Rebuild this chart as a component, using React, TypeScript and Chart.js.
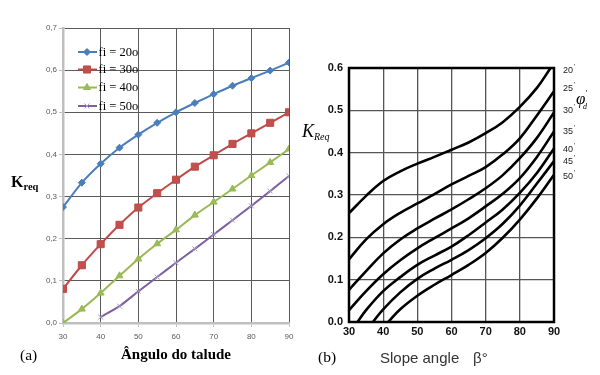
import React, { useEffect, useRef } from 'react';
import { Chart, registerables } from 'chart.js';
import { drawPoint } from 'chart.js/helpers';

Chart.register(...registerables);

// ---------- chart (a) data ----------
const anglesA = [30, 35, 40, 45, 50, 55, 60, 65, 70, 75, 80, 85, 90];
const kreqFi20 = [0.275, 0.333, 0.378, 0.416, 0.447, 0.475, 0.5, 0.522, 0.543, 0.563, 0.581, 0.599, 0.618];
const kreqFi30 = [0.081, 0.137, 0.187, 0.233, 0.274, 0.308, 0.34, 0.371, 0.398, 0.425, 0.45, 0.475, 0.5];
const kreqFi40 = [0.0, 0.033, 0.071, 0.112, 0.152, 0.188, 0.221, 0.256, 0.287, 0.318, 0.35, 0.381, 0.413];
const kreqFi50 = [null, null, 0.014, 0.04, 0.075, 0.109, 0.143, 0.176, 0.21, 0.244, 0.278, 0.313, 0.349];
const legendLabelsA = ['fi = 20o', 'fi = 30o', 'fi = 40o', 'fi = 50o'];

// ---------- chart (b) data ----------
const betaB20 = [30, 35, 40, 45, 50, 55, 60, 65, 70, 75, 80, 85, 89];
const kB20 = [0.257, 0.298, 0.333, 0.356, 0.374, 0.39, 0.407, 0.424, 0.446, 0.472, 0.508, 0.553, 0.6];
const betaB = [30, 35, 40, 45, 50, 55, 60, 65, 70, 75, 80, 85, 90];
const kB25 = [0.148, 0.195, 0.231, 0.258, 0.28, 0.302, 0.325, 0.345, 0.366, 0.396, 0.434, 0.488, 0.545];
const kB30 = [0.076, 0.12, 0.162, 0.195, 0.221, 0.244, 0.266, 0.29, 0.316, 0.347, 0.387, 0.435, 0.495];
const kB35 = [0.028, 0.073, 0.113, 0.146, 0.174, 0.198, 0.221, 0.245, 0.273, 0.303, 0.34, 0.39, 0.45];
const betaB40 = [32.5, 35, 40, 45, 50, 55, 60, 65, 70, 75, 80, 85, 90];
const kB40 = [0.0, 0.028, 0.073, 0.106, 0.135, 0.157, 0.178, 0.205, 0.235, 0.266, 0.305, 0.352, 0.41];
const betaB45 = [37, 40, 45, 50, 55, 60, 65, 70, 75, 80, 85, 90];
const kB45 = [0.0, 0.03, 0.07, 0.102, 0.126, 0.147, 0.17, 0.198, 0.232, 0.275, 0.327, 0.38];
const betaB50 = [41.5, 45, 50, 55, 60, 65, 70, 75, 80, 85, 90];
const kB50 = [0.0, 0.03, 0.062, 0.088, 0.111, 0.135, 0.163, 0.199, 0.242, 0.292, 0.348];
const phiLabels = ['20', '25', '30', '35', '40', '45', '50'];
const phiLabelY = [70.5, 88.5, 110, 131, 149, 161, 176];

const pts = (xs: number[], ys: (number | null)[]) => xs.map((x, i) => ({ x, y: ys[i] }));

const seriesA = [
  { label: legendLabelsA[0], data: kreqFi20, color: '#4A7EBB', fill: '#4A7EBB', style: 'rectRot', radius: 3.5 },
  { label: legendLabelsA[1], data: kreqFi30, color: '#BE4B48', fill: '#C0504D', style: 'rect', radius: 5 },
  { label: legendLabelsA[2], data: kreqFi40, color: '#98B954', fill: '#9BBB59', style: 'triangle', radius: 4 },
  { label: legendLabelsA[3], data: kreqFi50, color: '#7D60A0', fill: '#A899C6', style: 'crossRot', radius: 3.5 },
];
const legendRowsA = [52, 69.5, 87.5, 106];

const legendPluginA = {
  id: 'legendA',
  afterDraw(chart: any) {
    const ctx = chart.ctx;
    seriesA.forEach((s, i) => {
      const y = legendRowsA[i];
      ctx.save();
      ctx.strokeStyle = s.color;
      ctx.lineWidth = 2;
      ctx.beginPath();
      ctx.moveTo(78, y);
      ctx.lineTo(97, y);
      ctx.stroke();
      ctx.fillStyle = s.fill;
      ctx.strokeStyle = s.style === 'crossRot' ? s.fill : s.color;
      ctx.lineWidth = 1;
      drawPoint(ctx, { pointStyle: s.style as any, radius: s.radius, rotation: 0, borderWidth: 1 } as any, 87, y);
      ctx.fillStyle = '#000';
      ctx.font = '12.5px "Liberation Serif"';
      ctx.textBaseline = 'middle';
      ctx.textAlign = 'left';
      ctx.fillText(s.label, 98.5, y + 0.5);
      ctx.restore();
    });
  },
};

const frameBPlugin = {
  id: 'frameB',
  afterDatasetsDraw(chart: any) {
    const { ctx, chartArea } = chart;
    ctx.save();
    ctx.strokeStyle = '#000';
    ctx.lineWidth = 2.5;
    ctx.strokeRect(chartArea.left, chartArea.top, chartArea.right - chartArea.left, chartArea.bottom - chartArea.top);
    ctx.restore();
  },
};

function Label(props: any) {
  const { x, base, size, family, weight, fstyle, color, children, center } = props;
  return (
    <div
      style={{
        position: 'absolute',
        left: x,
        top: base - 0.84 * size,
        transform: center ? 'translateX(-50%)' : undefined,
        fontFamily: family,
        fontSize: size,
        fontWeight: weight || 'normal',
        fontStyle: fstyle || 'normal',
        lineHeight: `${size}px`,
        color: color || '#000',
        whiteSpace: 'nowrap',
      }}
    >
      {children}
    </div>
  );
}

export default function App() {
  const refA = useRef<HTMLCanvasElement>(null);
  const refB = useRef<HTMLCanvasElement>(null);

  useEffect(() => {
    const chartA = new Chart(refA.current as HTMLCanvasElement, {
      type: 'line',
      data: {
        datasets: seriesA.map((s) => ({
          label: s.label,
          data: pts(anglesA, s.data),
          borderColor: s.color,
          backgroundColor: s.fill,
          borderWidth: 2,
          pointStyle: s.style as any,
          pointRadius: s.radius,
          pointBackgroundColor: s.fill,
          pointBorderColor: s.style === 'crossRot' ? s.fill : s.color,
          pointBorderWidth: 1,
          tension: 0.2,
        })),
      },
      options: {
        animation: false,
        responsive: false,
        layout: { padding: { left: 0, top: 28, right: 11, bottom: 0 } },
        plugins: { legend: { display: false }, tooltip: { enabled: false } },
        scales: {
          x: {
            type: 'linear',
            min: 30,
            max: 90,
            ticks: { stepSize: 10, font: { size: 8, family: 'Liberation Sans' }, color: '#595959', padding: 5 },
            grid: { color: '#5a5a5a', lineWidth: 1, tickColor: '#BFBFBF', tickLength: 4 },
            border: { color: '#BFBFBF', width: 2.5 },
            afterFit: (s: any) => { s.height = 52; },
          },
          y: {
            type: 'linear',
            min: 0,
            max: 0.7,
            ticks: {
              stepSize: 0.1,
              font: { size: 8, family: 'Liberation Sans' },
              color: '#595959',
              padding: 2,
              callback: (v: any) => Number(v).toFixed(1).replace('.', ','),
            },
            grid: { color: '#5a5a5a', lineWidth: 1, tickColor: '#BFBFBF', tickLength: 4 },
            border: { color: '#BFBFBF', width: 2.5 },
            afterFit: (s: any) => { s.width = 63; },
          },
        },
      },
      plugins: [legendPluginA],
    });

    const curvesB = [
      pts(betaB20, kB20),
      pts(betaB, kB25),
      pts(betaB, kB30),
      pts(betaB, kB35),
      pts(betaB40, kB40),
      pts(betaB45, kB45),
      pts(betaB50, kB50),
    ];
    const chartB = new Chart(refB.current as HTMLCanvasElement, {
      type: 'line',
      data: {
        datasets: curvesB.map((d, i) => ({
          label: phiLabels[i],
          data: d,
          borderColor: '#000',
          borderWidth: 2.6,
          pointRadius: 0,
          tension: 0.4,
        })),
      },
      options: {
        animation: false,
        responsive: false,
        layout: { padding: { left: 0, top: 68, right: 46, bottom: 0 } },
        plugins: { legend: { display: false }, tooltip: { enabled: false } },
        scales: {
          x: {
            type: 'linear',
            min: 30,
            max: 90,
            ticks: { stepSize: 10, font: { size: 11, weight: 'bold', family: 'Liberation Sans' }, color: '#111', padding: 3 },
            grid: { color: '#555', lineWidth: 1.3, drawTicks: false },
            border: { display: false },
            afterFit: (s: any) => { s.height = 53; },
          },
          y: {
            type: 'linear',
            min: 0,
            max: 0.6,
            ticks: {
              stepSize: 0.1,
              font: { size: 11, weight: 'bold', family: 'Liberation Sans' },
              color: '#111',
              padding: 6,
              callback: (v: any) => Number(v).toFixed(1),
            },
            grid: { color: '#555', lineWidth: 1.3, drawTicks: false },
            border: { display: false },
            afterFit: (s: any) => { s.width = 49; },
          },
        },
      },
      plugins: [frameBPlugin],
    });

    return () => {
      chartA.destroy();
      chartB.destroy();
    };
  }, []);

  return (
    <div style={{ position: 'fixed', left: 0, top: 0, width: 600, height: 375, background: '#fff', overflow: 'hidden' }}>
      <canvas ref={refA} width={300} height={375} style={{ position: 'absolute', left: 0, top: 0 }} />
      <canvas ref={refB} width={300} height={375} style={{ position: 'absolute', left: 300, top: 0 }} />

      {/* chart (a) texts */}
      <Label x={11} base={187} size={16} family="Liberation Serif" weight="bold">
        K<span style={{ fontSize: 10.5, position: 'relative', top: 3 }}>req</span>
      </Label>
      <Label x={176} base={360} size={15} family="Liberation Serif" weight="bold" center>
        Ângulo do talude
      </Label>
      <Label x={20} base={360} size={15.5} family="Liberation Serif">(a)</Label>

      {/* chart (b) texts */}
      <Label x={302} base={137} size={18} family="Liberation Serif" fstyle="italic">
        K<span style={{ fontSize: 10, position: 'relative', top: 3 }}>Req</span>
      </Label>
      {phiLabels.map((t, i) => (
        <Label key={t} x={563} base={phiLabelY[i] + 3.2} size={9} family="Liberation Sans" color="#222">
          {t}
          <span style={{ fontSize: 7, position: 'relative', top: -4, left: 1 }}>'</span>
        </Label>
      ))}
      <Label x={576} base={104} size={17} family="Liberation Serif" fstyle="italic">
        φ
      </Label>
      <Label x={585} base={97} size={8} family="Liberation Serif" fstyle="italic">'</Label>
      <Label x={583} base={110} size={8} family="Liberation Serif" fstyle="italic">d</Label>
      <Label x={318} base={362} size={15.5} family="Liberation Serif">(b)</Label>
      <Label x={380} base={363} size={15} family="Liberation Sans" color="#333">Slope angle</Label>
      <Label x={473} base={363} size={15} family="Liberation Sans" color="#333">β°</Label>
    </div>
  );
}
